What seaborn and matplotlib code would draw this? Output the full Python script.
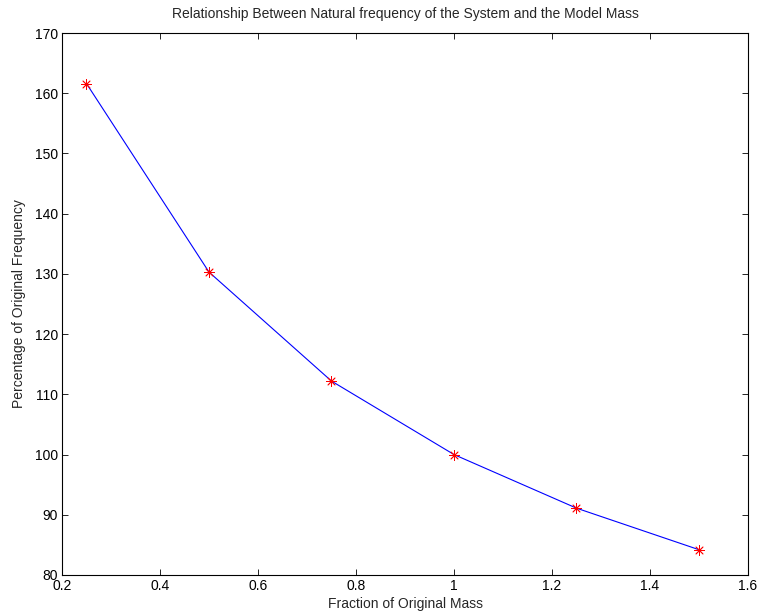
import matplotlib
matplotlib.use("Agg")
import matplotlib.pyplot as plt
import seaborn as sns
import pandas as pd

mass_fraction = [0.25, 0.5, 0.75, 1.0, 1.25, 1.5]
freq_percent = [161.6, 130.3, 112.2, 100.0, 91.1, 84.2]
x_ticks = [0.2, 0.4, 0.6, 0.8, 1.0, 1.2, 1.4, 1.6]
x_tick_labels = ["0.2", "0.4", "0.6", "0.8", "1", "1.2", "1.4", "1.6"]
y_ticks = [80, 90, 100, 110, 120, 130, 140, 150, 160, 170]

sns.set_theme(style="ticks")
plt.rcParams['font.family'] = ['Liberation Sans', 'DejaVu Sans']

df = pd.DataFrame({"mass": mass_fraction, "freq": freq_percent})

fig = plt.figure(figsize=(7.61, 6.16), dpi=100)
ax = fig.add_axes([62/761, 1 - 575/616, (748-62)/761, (575-33)/616])

sns.lineplot(data=df, x="mass", y="freq", ax=ax, color="blue", linewidth=0.8)
sns.scatterplot(data=df, x="mass", y="freq", ax=ax, marker=(8, 2, 0), s=50,
                color="red", edgecolor="red", linewidth=0.6, zorder=3)

ax.set_xlim(0.2, 1.6)
ax.set_ylim(80, 170)
ax.set_xticks(x_ticks)
ax.set_xticklabels(x_tick_labels)
ax.set_yticks(y_ticks)
ax.tick_params(direction="in", length=4, width=0.6, top=True, right=True,
               labelsize=10, colors="black", pad=3)
for s in ax.spines.values():
    s.set_visible(True)
    s.set_linewidth(0.8)
    s.set_color("black")

ax.set_xlabel("Fraction of Original Mass", fontsize=10, labelpad=3)
ax.set_ylabel("Percentage of Original Frequency", fontsize=10, labelpad=6)
ax.set_title("Relationship Between Natural frequency of the System and the Model Mass",
             fontsize=10, pad=11)

fig.savefig("out.png", dpi=100)
